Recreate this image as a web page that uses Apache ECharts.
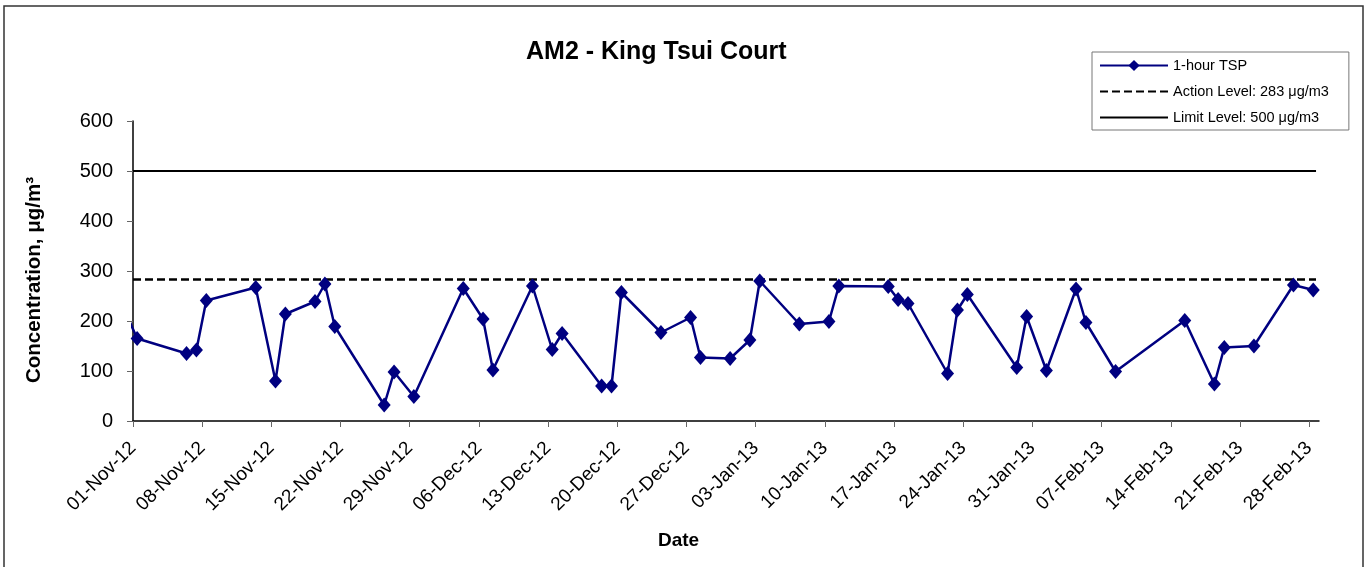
<!DOCTYPE html>
<html>
<head>
<meta charset="utf-8">
<title>AM2 - King Tsui Court</title>
<script src="https://cdn.jsdelivr.net/npm/echarts@6/dist/echarts.min.js"></script>
<style>
  html, body { margin: 0; padding: 0; background: #fff; }
  #chart { width: 1364px; height: 567px; }
</style>
</head>
<body>
<div id="chart"></div>
<script>
// sampling dates (the first one sits just before the axis start and gets clipped)
const dates = [
  '2012-10-31', '2012-11-01', '2012-11-06', '2012-11-07', '2012-11-08', '2012-11-13',
  '2012-11-15', '2012-11-16', '2012-11-19', '2012-11-20', '2012-11-21', '2012-11-26',
  '2012-11-27', '2012-11-29', '2012-12-04', '2012-12-06', '2012-12-07', '2012-12-11',
  '2012-12-13', '2012-12-14', '2012-12-18', '2012-12-19', '2012-12-20', '2012-12-24',
  '2012-12-27', '2012-12-28', '2012-12-31', '2013-01-02', '2013-01-03', '2013-01-07',
  '2013-01-10', '2013-01-11', '2013-01-16', '2013-01-17', '2013-01-18', '2013-01-22',
  '2013-01-23', '2013-01-24', '2013-01-29', '2013-01-30', '2013-02-01', '2013-02-04',
  '2013-02-05', '2013-02-08', '2013-02-15', '2013-02-18', '2013-02-19', '2013-02-22',
  '2013-02-26', '2013-02-28'
]
const sampleTime = 'T10:00Z'

// 1-hour TSP, ug/m3
const tsp = [
  210, 165, 135, 142, 241, 267,
  80, 214, 239, 274, 189, 32,
  98, 49, 265, 204, 102, 270,
  143, 175, 70, 70, 257, 177,
  207, 127, 125, 162, 280, 194,
  199, 270, 269, 243, 235, 95,
  222, 253, 107, 209, 101, 264,
  197, 99, 201, 74, 147, 150,
  272, 262
]

const actionLevel = 283
const limitLevel = 500

const axisStart = '2012-11-01'
const axisEnd = '2013-03-01'
const yTicks = [0, 100, 200, 300, 400, 500, 600]

const MONTHS = ['Jan', 'Feb', 'Mar', 'Apr', 'May', 'Jun', 'Jul', 'Aug', 'Sep', 'Oct', 'Nov', 'Dec']
const DAY = 86400000
const t0 = Date.parse(axisStart + 'T00:00Z')
const toDay = (s) => (Date.parse(s) - t0) / DAY
const xMax = toDay(axisEnd + 'T00:00Z')

const fmtDate = (day) => {
  const d = new Date(t0 + day * DAY)
  const dd = String(d.getUTCDate()).padStart(2, '0')
  return dd + '-' + MONTHS[d.getUTCMonth()] + '-' + String(d.getUTCFullYear()).slice(2)
}

// weekly ticks from the start date
const weekTicks = []
for (let d = 0; d < xMax; d += 7) weekTicks.push(d)

const tspData = dates.map((d, i) => [toDay(d + sampleTime), tsp[i]])

const font = "'Liberation Sans', Arial, sans-serif"

const chart = echarts.init(document.getElementById('chart'))

chart.setOption({
  backgroundColor: '#fff',
  animation: false,
  textStyle: { fontFamily: font },
  title: [
    {
      text: 'AM2 - King Tsui Court',
      left: 526,
      top: 40,
      padding: 0,
      textStyle: { fontFamily: font, fontSize: 25, fontWeight: 'bold', color: '#000' }
    },
    {
      text: 'Date',
      left: 658,
      top: 531,
      padding: 0,
      textStyle: { fontFamily: font, fontSize: 19, fontWeight: 'bold', color: '#000' }
    }
  ],
  legend: {
    orient: 'vertical',
    left: 1092,
    top: 52,
    padding: [6, 20, 5, 7],
    itemGap: 11,
    itemWidth: 68,
    itemHeight: 14,
    borderColor: '#777',
    borderWidth: 1,
    borderRadius: 0,
    textStyle: { fontFamily: font, fontSize: 14.5, color: '#000' },
    data: [
      '1-hour TSP',
      { name: 'Action Level: 283 μg/m3', itemStyle: { opacity: 0 } },
      { name: 'Limit Level: 500 μg/m3', itemStyle: { opacity: 0 } }
    ]
  },
  grid: { left: 133, right: 45, top: 121, bottom: 146 },
  xAxis: {
    type: 'value',
    min: 0,
    max: xMax,
    interval: 7,
    axisLine: { lineStyle: { color: '#000', width: 1.5 } },
    axisTick: { show: true, inside: false, length: 6, lineStyle: { color: '#666' }, customValues: weekTicks },
    axisLabel: {
      rotate: 45,
      margin: 24,
      fontSize: 19,
      color: '#000',
      fontFamily: font,
      customValues: weekTicks,
      formatter: (v) => fmtDate(v)
    },
    splitLine: { show: false }
  },
  yAxis: {
    type: 'value',
    min: yTicks[0],
    max: yTicks[yTicks.length - 1],
    interval: 100,
    name: 'Concentration, μg/m³',
    nameLocation: 'middle',
    nameGap: 88,
    nameRotate: 90,
    nameTextStyle: { fontFamily: font, fontSize: 20.5, fontWeight: 'bold', color: '#000', padding: [0, 18, 0, 0] },
    axisLine: { show: true, lineStyle: { color: '#000', width: 1.5 } },
    axisTick: { show: true, inside: false, length: 6, lineStyle: { color: '#666' } },
    axisLabel: { margin: 20, fontSize: 20, color: '#000', fontFamily: font },
    splitLine: { show: false }
  },
  series: [
    {
      name: 'Limit Level: 500 μg/m3',
      type: 'line',
      symbol: 'none',
      data: [[0, limitLevel], [xMax - 0.3, limitLevel]],
      lineStyle: { color: '#000', width: 2 },
      itemStyle: { color: '#000' },
      z: 2
    },
    {
      name: 'Action Level: 283 μg/m3',
      type: 'line',
      symbol: 'none',
      data: [[0, actionLevel], [xMax - 0.3, actionLevel]],
      lineStyle: { color: '#000', width: 2.5, type: [8, 4] },
      itemStyle: { color: '#000' },
      z: 2
    },
    {
      name: '1-hour TSP',
      type: 'line',
      data: tspData,
      clip: true,
      symbol: 'diamond',
      symbolSize: [13, 15],
      lineStyle: { color: '#000080', width: 2.5 },
      itemStyle: { color: '#000080' },
      z: 3
    }
  ],
  graphic: [
    {
      type: 'rect',
      silent: true,
      shape: { x: 4, y: 6, width: 1359, height: 600 },
      style: { fill: 'none', stroke: '#333', lineWidth: 1.5 }
    }
  ]
})

window.addEventListener('resize', () => chart.resize())
</script>
</body>
</html>
